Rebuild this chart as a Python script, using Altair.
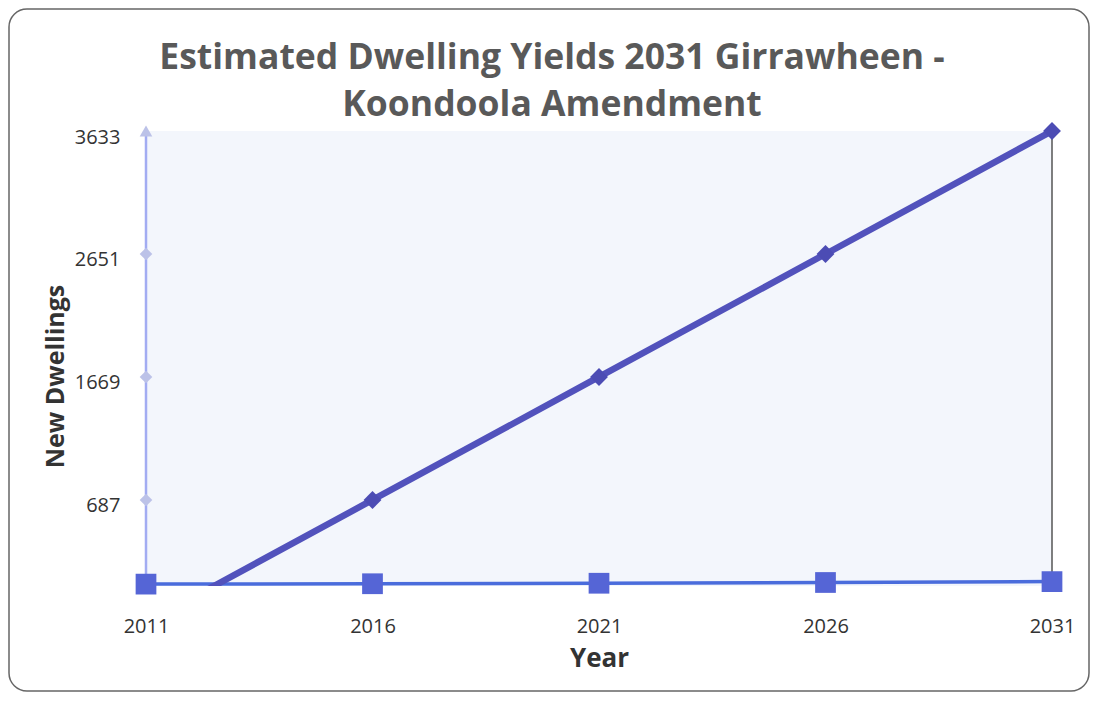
import altair as alt
import pandas as pd

years = [2011, 2016, 2021, 2026, 2031]
# main series (2011 value falls below the axis minimum and is clipped)
dwellings = [-295, 687, 1669, 2651, 3633]
# baseline series (squares) close to zero
baseline = [15, 18, 22, 28, 35]
# y-axis tick values
y_ticks = [687, 1669, 2651, 3633]
axis_shapes = ["diamond", "diamond", "diamond", "triangle-up"]

title_lines = ["Estimated Dwelling Yields 2031 Girrawheen -", "Koondoola Amendment"]

W, H = 906, 455
PL, PT, PR, PB = 138, 123, 39, 107

main_df = pd.DataFrame({"Year": years, "Dwellings": dwellings})
base_df = pd.DataFrame({"Year": years, "Dwellings": baseline})
axis_df = pd.DataFrame({"Year": [years[0]] * len(y_ticks), "Dwellings": y_ticks, "shape": axis_shapes})
axline_df = pd.DataFrame({"Year": [years[0]], "lo": [0], "hi": [y_ticks[-1]]})
right_df = pd.DataFrame({"Year": [years[-1]], "lo": [0], "hi": [y_ticks[-1]]})

FONT = "Open Sans"

xscale = alt.Scale(domain=[years[0], years[-1]], nice=False, zero=False)
yscale = alt.Scale(domain=[0, y_ticks[-1]], nice=False)

x_enc = alt.X("Year:Q", scale=xscale,
              axis=alt.Axis(values=years, format="d", title="Year", grid=False, domain=False,
                            ticks=False, labelFontSize=20, labelColor="#333333", labelFont=FONT,
                            labelPadding=30, titleFont=FONT, titleFontSize=26, titleFontWeight="bold",
                            titleColor="#333333", titlePadding=9, labelFlush=False))
y_enc = alt.Y("Dwellings:Q", scale=yscale,
              axis=alt.Axis(values=y_ticks, format="d", title="New Dwellings", grid=False, domain=False,
                            ticks=False, labelFontSize=20, labelColor="#333333", labelFont=FONT,
                            labelPadding=26, labelOffset=6, titleFont=FONT, titleFontSize=25,
                            titleFontWeight="bold", titleColor="#333333",
                            titleX=-91, titleY=245, titleBaseline="middle", titleAlign="center"))

one = pd.DataFrame({"a": [0]})

border = alt.Chart(one).mark_rect(
    fill=None, stroke="#666666", strokeWidth=1.5, cornerRadius=18
).encode(x=alt.value(-PL + 1), x2=alt.value(W + PR - 2), y=alt.value(-PT + 1), y2=alt.value(H + PB - 2))

title1 = alt.Chart(pd.DataFrame({"t": [title_lines[0]]})).mark_text(
    font=FONT, fontSize=35.5, fontWeight="bold", color="#595959", align="center", baseline="middle"
).encode(text="t:N", x=alt.value(406), y=alt.value(-73))
title2 = alt.Chart(pd.DataFrame({"t": [title_lines[1]]})).mark_text(
    font=FONT, fontSize=35.5, fontWeight="bold", color="#595959", align="center", baseline="middle"
).encode(text="t:N", x=alt.value(406), y=alt.value(-26))

axis_line = alt.Chart(axline_df).mark_rule(color="#a2acf2", strokeWidth=2.5).encode(
    x=x_enc, y=alt.Y("lo:Q", scale=yscale), y2="hi:Q")

axis_pts = alt.Chart(axis_df).mark_point(filled=True, color="#bcc2e8", size=160, opacity=1).encode(
    x="Year:Q", y="Dwellings:Q",
    shape=alt.Shape("shape:N", scale=None, legend=None))

right_line = alt.Chart(right_df).mark_rule(color="#555555", strokeWidth=1.5).encode(
    x="Year:Q", y="lo:Q", y2="hi:Q")

base_line = alt.Chart(base_df).mark_line(color="#4a6cdc", strokeWidth=3.5).encode(
    x="Year:Q", y="Dwellings:Q")
base_pts = alt.Chart(base_df).mark_point(shape="square", filled=True, color="#5565d6", size=430, opacity=1).encode(
    x="Year:Q", y="Dwellings:Q")

main_line = alt.Chart(main_df).mark_line(color="#5252bc", strokeWidth=6.5, clip=True).encode(
    x="Year:Q", y=y_enc)
main_pts = alt.Chart(main_df[main_df["Dwellings"] >= 0]).mark_point(
    shape="diamond", filled=True, color="#4c4cb4", size=320, opacity=1).encode(
    x="Year:Q", y="Dwellings:Q")

chart = alt.layer(
    border, title1, title2, axis_line, axis_pts, right_line, base_line, base_pts, main_line, main_pts
).properties(
    width=W, height=H,
    padding={"left": PL, "top": PT, "right": PR, "bottom": PB},
    autosize=alt.AutoSizeParams(type="none"),
    background="white",
).configure_view(fill="#f3f6fc", stroke=None)

chart.save("out.html", embed_options={"renderer": "svg", "actions": False})
